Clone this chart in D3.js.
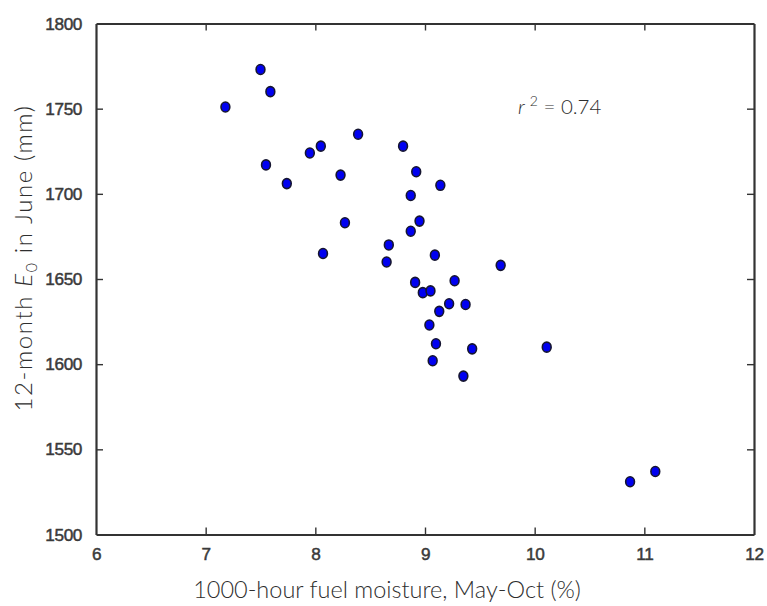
<!DOCTYPE html>
<html>
<head>
<meta charset="utf-8">
<script src="https://cdn.jsdelivr.net/npm/d3@7"></script>
<style>
  html, body { margin: 0; padding: 0; background: #fff; }
  svg { display: block; }
</style>
</head>
<body>
<svg id="chart" width="767" height="606"></svg>
<script>
// Data
const fuelMoisture = [7.18, 7.50, 7.59, 7.55, 7.74, 8.39, 8.05, 7.95, 8.23, 8.27, 8.07, 8.67,
  8.80, 8.92, 9.14, 8.87, 8.95, 8.87, 8.65, 9.09, 9.69, 8.91, 9.27, 8.98, 9.05, 9.22, 9.37,
  9.13, 9.04, 9.10, 9.43, 9.07, 9.35, 10.11, 10.87, 11.10];
const evapDemand = [1751, 1773, 1760, 1717, 1706, 1735, 1728, 1724, 1711, 1683, 1665, 1670,
  1728, 1713, 1705, 1699, 1684, 1678, 1660, 1664, 1658, 1648, 1649, 1642, 1643, 1635.5, 1635,
  1631, 1623, 1612, 1609, 1602, 1593, 1610, 1531, 1537];
const xTicks = [6, 7, 8, 9, 10, 11, 12];
const yTicks = [1500, 1550, 1600, 1650, 1700, 1750, 1800];
const xDomain = [6, 12];
const yDomain = [1500, 1800];
const r2Text = "0.74";

(function () {
const svg = d3.select("#chart");
const margin = { left: 96, right: 13, top: 23.5, bottom: 71.5 };
const W = 767, H = 606;
const x = d3.scaleLinear().domain(xDomain).range([margin.left, W - margin.right]);
const y = d3.scaleLinear().domain(yDomain).range([H - margin.bottom, margin.top]);

const axisColor = "#333";
const tickFont = "'Liberation Sans', Arial, sans-serif";
const titleFont = "Lato, 'Open Sans', sans-serif";
const titleColor = "#2e2e2e";

// Points
const pts = fuelMoisture.map((v, i) => ({ x: v, y: evapDemand[i] }));
svg.append("g").selectAll("ellipse").data(pts).enter().append("ellipse")
  .attr("cx", d => x(d.x)).attr("cy", d => y(d.y))
  .attr("rx", 4.4).attr("ry", 5.0)
  .attr("fill", "#0000f0").attr("stroke", "#151530").attr("stroke-width", 1.6);

// Axes (ticks pointing inward on all four sides)
const tl = 7;
const gBottom = svg.append("g").attr("transform", `translate(0,${y.range()[0]})`)
  .call(d3.axisBottom(x).tickValues(xTicks).tickSizeInner(-tl).tickSizeOuter(0).tickPadding(13).tickFormat(d3.format("d")));
const gTop = svg.append("g").attr("transform", `translate(0,${y.range()[1]})`)
  .call(d3.axisTop(x).tickValues(xTicks).tickSizeInner(-tl).tickSizeOuter(0).tickFormat(""));
const gLeft = svg.append("g").attr("transform", `translate(${x.range()[0]},0)`)
  .call(d3.axisLeft(y).tickValues(yTicks).tickSizeInner(-tl).tickSizeOuter(0).tickPadding(14).tickFormat(d3.format("d")));
const gRight = svg.append("g").attr("transform", `translate(${x.range()[1]},0)`)
  .call(d3.axisRight(y).tickValues(yTicks).tickSizeInner(-tl).tickSizeOuter(0).tickFormat(""));

[gBottom, gTop, gLeft, gRight].forEach(g => {
  g.select(".domain").attr("stroke", axisColor).attr("stroke-width", 2.2);
  g.selectAll(".tick line").attr("stroke", axisColor).attr("stroke-width", 1.4);
  g.selectAll(".tick text").attr("fill", "#3a3a3a").attr("font-family", tickFont)
    .attr("font-size", 17.2).attr("stroke", "#3a3a3a").attr("stroke-width", 0.5)
    .attr("letter-spacing", -0.4);
});
gBottom.selectAll(".tick line").filter(d => d === xDomain[0] || d === xDomain[1]).remove();
gTop.selectAll(".tick").filter(d => d === xDomain[0] || d === xDomain[1]).remove();
gLeft.selectAll(".tick line").filter(d => d === yDomain[0] || d === yDomain[1]).remove();
gRight.selectAll(".tick").filter(d => d === yDomain[0] || d === yDomain[1]).remove();

// X axis title
svg.append("text")
  .attr("x", (x.range()[0] + x.range()[1]) / 2 - 38).attr("y", 598)
  .attr("text-anchor", "middle").attr("font-family", titleFont).attr("font-size", 23.5)
  .attr("font-weight", 300).attr("fill", titleColor).text("1000-hour fuel moisture, May-Oct (%)");

// Y axis title
const yt = svg.append("text")
  .attr("transform", `translate(32,258) rotate(-90)`)
  .attr("text-anchor", "middle").attr("font-family", titleFont).attr("font-size", 24)
  .attr("font-weight", 300).attr("letter-spacing", 1.6).attr("fill", titleColor);
yt.append("tspan").text("12-month ");
yt.append("tspan").attr("font-style", "italic").text("E");
yt.append("tspan").attr("font-size", 16).attr("dy", 5).text("0");
yt.append("tspan").attr("dy", -5).text(" in June (mm)");

// r^2 annotation
const ann = svg.append("text").attr("x", 518).attr("y", 114)
  .attr("font-family", titleFont).attr("font-size", 20.5).attr("font-weight", 300).attr("fill", titleColor);
ann.append("tspan").attr("font-style", "italic").text("r");
ann.append("tspan").attr("font-size", 14).attr("dx", 5).attr("dy", -8).text("2");
ann.append("tspan").attr("dy", 8).text(" = " + r2Text);
})();
</script>
</body>
</html>
